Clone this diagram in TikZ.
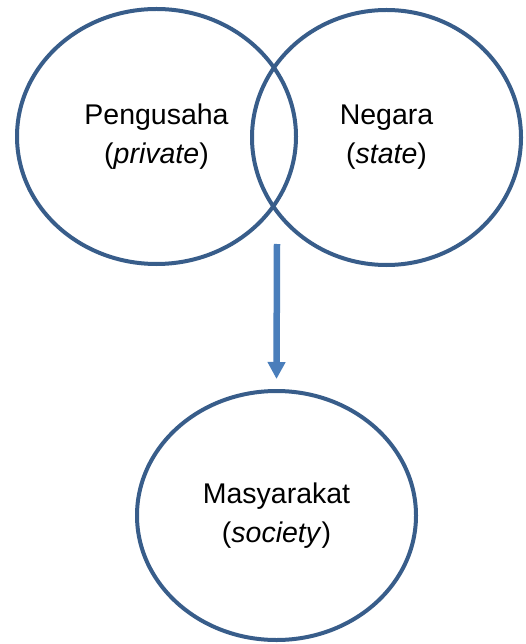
\documentclass[tikz,border=0pt]{standalone}
\usepackage{fontspec}
\setmainfont{Liberation Sans}
\usetikzlibrary{shapes.geometric,arrows.meta}
\definecolor{ringblue}{HTML}{385D8A}
\definecolor{arrowblue}{HTML}{4A7EBB}
\begin{document}
\begin{tikzpicture}[x=1pt,y=-1pt,
  ring/.style={draw=ringblue, line width=4pt, ellipse, inner sep=0pt,
    align=center, font=\fontsize{28.5}{39}\selectfont},
  flow/.style={draw=arrowblue, line width=6.5pt, -{Triangle[width=17pt,length=17pt]}}]
\useasboundingbox (0,0) rectangle (526,644);
\node[ring, minimum width=279pt, minimum height=255pt] (priv) at (156.5,136.5) {Pengusaha\\(\textit{private})};
\node[ring, minimum width=269pt, minimum height=255pt] (state) at (386.5,137.5) {Negara\\(\textit{state})};
\node[ring, minimum width=279pt, minimum height=249pt] (soc) at (276.5,515.5) {Masyarakat\\(\textit{society})};
\coordinate (a0) at (277,244);
\draw[flow] (a0) -- ([yshift=10pt]soc.north);
\end{tikzpicture}
\end{document}
